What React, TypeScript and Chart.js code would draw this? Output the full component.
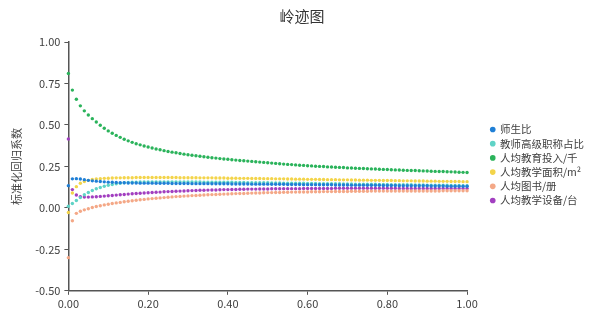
import React, { useEffect, useRef } from "react";
import { Chart, registerables } from "chart.js";

Chart.register(...registerables);

const LAMBDA = [
  0.0, 0.01, 0.02, 0.03, 0.04, 0.05, 0.06, 0.07, 0.08, 0.09,
  0.1, 0.11, 0.12, 0.13, 0.14, 0.15, 0.16, 0.17, 0.18, 0.19,
  0.2, 0.21, 0.22, 0.23, 0.24, 0.25, 0.26, 0.27, 0.28, 0.29,
  0.3, 0.31, 0.32, 0.33, 0.34, 0.35, 0.36, 0.37, 0.38, 0.39,
  0.4, 0.41, 0.42, 0.43, 0.44, 0.45, 0.46, 0.47, 0.48, 0.49,
  0.5, 0.51, 0.52, 0.53, 0.54, 0.55, 0.56, 0.57, 0.58, 0.59,
  0.6, 0.61, 0.62, 0.63, 0.64, 0.65, 0.66, 0.67, 0.68, 0.69,
  0.7, 0.71, 0.72, 0.73, 0.74, 0.75, 0.76, 0.77, 0.78, 0.79,
  0.8, 0.81, 0.82, 0.83, 0.84, 0.85, 0.86, 0.87, 0.88, 0.89,
  0.9, 0.91, 0.92, 0.93, 0.94, 0.95, 0.96, 0.97, 0.98, 0.99,
  1.0,
];

const SHISHENGBI = [
  0.134, 0.175, 0.176, 0.174, 0.170, 0.166, 0.163, 0.161, 0.159, 0.157,
  0.155, 0.154, 0.153, 0.152, 0.151, 0.150, 0.150, 0.150, 0.149, 0.149,
  0.149, 0.149, 0.148, 0.148, 0.148, 0.148, 0.147, 0.147, 0.147, 0.147,
  0.147, 0.146, 0.146, 0.146, 0.146, 0.146, 0.145, 0.145, 0.145, 0.145,
  0.145, 0.144, 0.144, 0.144, 0.144, 0.144, 0.143, 0.143, 0.143, 0.143,
  0.143, 0.142, 0.142, 0.142, 0.142, 0.141, 0.141, 0.141, 0.141, 0.140,
  0.140, 0.140, 0.140, 0.139, 0.139, 0.139, 0.139, 0.138, 0.138, 0.138,
  0.138, 0.137, 0.137, 0.137, 0.137, 0.136, 0.136, 0.136, 0.136, 0.135,
  0.135, 0.135, 0.135, 0.134, 0.134, 0.134, 0.134, 0.133, 0.133, 0.133,
  0.133, 0.132, 0.132, 0.132, 0.132, 0.131, 0.131, 0.131, 0.131, 0.130,
  0.130,
];

const GAOJI = [
  0.010, 0.026, 0.044, 0.062, 0.079, 0.093, 0.105, 0.115, 0.123, 0.130,
  0.136, 0.141, 0.145, 0.148, 0.151, 0.153, 0.154, 0.155, 0.156, 0.156,
  0.157, 0.157, 0.157, 0.157, 0.157, 0.157, 0.157, 0.157, 0.157, 0.156,
  0.156, 0.156, 0.156, 0.156, 0.155, 0.155, 0.155, 0.155, 0.154, 0.154,
  0.154, 0.154, 0.153, 0.153, 0.153, 0.152, 0.152, 0.152, 0.151, 0.151,
  0.151, 0.150, 0.150, 0.150, 0.149, 0.149, 0.149, 0.148, 0.148, 0.148,
  0.147, 0.147, 0.147, 0.146, 0.146, 0.146, 0.145, 0.145, 0.145, 0.144,
  0.144, 0.144, 0.143, 0.143, 0.143, 0.142, 0.142, 0.142, 0.141, 0.141,
  0.141, 0.140, 0.140, 0.140, 0.139, 0.139, 0.139, 0.138, 0.138, 0.138,
  0.137, 0.137, 0.137, 0.136, 0.136, 0.136, 0.135, 0.135, 0.135, 0.134,
  0.134,
];

const TOURU = [
  0.810, 0.710, 0.655, 0.615, 0.585, 0.560, 0.538, 0.518, 0.498, 0.480,
  0.464, 0.450, 0.437, 0.425, 0.414, 0.404, 0.395, 0.387, 0.380, 0.373,
  0.367, 0.361, 0.355, 0.350, 0.345, 0.340, 0.336, 0.332, 0.328, 0.324,
  0.320, 0.317, 0.314, 0.311, 0.308, 0.305, 0.302, 0.300, 0.297, 0.295,
  0.293, 0.290, 0.288, 0.286, 0.284, 0.282, 0.280, 0.278, 0.276, 0.274,
  0.272, 0.270, 0.268, 0.266, 0.264, 0.262, 0.261, 0.259, 0.257, 0.256,
  0.254, 0.253, 0.251, 0.250, 0.249, 0.247, 0.246, 0.245, 0.244, 0.243,
  0.241, 0.240, 0.239, 0.238, 0.237, 0.236, 0.235, 0.234, 0.233, 0.232,
  0.231, 0.230, 0.229, 0.228, 0.227, 0.226, 0.225, 0.225, 0.224, 0.223,
  0.222, 0.221, 0.220, 0.219, 0.219, 0.218, 0.217, 0.216, 0.215, 0.214,
  0.213,
];

const MIANJI = [
  -0.028, 0.090, 0.128, 0.148, 0.159, 0.166, 0.171, 0.174, 0.176, 0.178,
  0.179, 0.180, 0.181, 0.181, 0.182, 0.182, 0.182, 0.183, 0.183, 0.183,
  0.183, 0.183, 0.183, 0.183, 0.183, 0.183, 0.183, 0.183, 0.182, 0.182,
  0.182, 0.182, 0.182, 0.181, 0.181, 0.181, 0.181, 0.180, 0.180, 0.180,
  0.179, 0.179, 0.179, 0.178, 0.178, 0.178, 0.177, 0.177, 0.177, 0.176,
  0.176, 0.176, 0.175, 0.175, 0.175, 0.174, 0.174, 0.173, 0.173, 0.173,
  0.172, 0.172, 0.172, 0.171, 0.171, 0.170, 0.170, 0.170, 0.169, 0.169,
  0.169, 0.168, 0.168, 0.167, 0.167, 0.167, 0.166, 0.166, 0.166, 0.165,
  0.165, 0.165, 0.164, 0.164, 0.163, 0.163, 0.163, 0.162, 0.162, 0.162,
  0.161, 0.161, 0.161, 0.160, 0.160, 0.160, 0.159, 0.159, 0.159, 0.158,
  0.158,
];

const TUSHU = [
  -0.300, -0.078, -0.033, -0.020, -0.012, -0.005, 0.002, 0.008, 0.013, 0.018,
  0.022, 0.026, 0.030, 0.033, 0.037, 0.040, 0.043, 0.046, 0.049, 0.051,
  0.054, 0.056, 0.058, 0.060, 0.062, 0.064, 0.066, 0.068, 0.069, 0.071,
  0.072, 0.074, 0.075, 0.076, 0.078, 0.079, 0.080, 0.081, 0.082, 0.083,
  0.084, 0.085, 0.086, 0.087, 0.087, 0.088, 0.089, 0.090, 0.090, 0.091,
  0.092, 0.092, 0.093, 0.093, 0.094, 0.094, 0.095, 0.095, 0.096, 0.096,
  0.096, 0.097, 0.097, 0.097, 0.098, 0.098, 0.098, 0.099, 0.099, 0.099,
  0.099, 0.100, 0.100, 0.100, 0.100, 0.100, 0.101, 0.101, 0.101, 0.101,
  0.101, 0.101, 0.101, 0.102, 0.102, 0.102, 0.102, 0.102, 0.102, 0.102,
  0.102, 0.102, 0.102, 0.102, 0.103, 0.103, 0.103, 0.103, 0.103, 0.103,
  0.103,
];

const SHEBEI = [
  0.415, 0.110, 0.078, 0.068, 0.065, 0.065, 0.066, 0.067, 0.069, 0.071,
  0.073, 0.075, 0.077, 0.079, 0.081, 0.083, 0.085, 0.087, 0.088, 0.090,
  0.091, 0.093, 0.094, 0.095, 0.097, 0.098, 0.099, 0.100, 0.101, 0.102,
  0.103, 0.104, 0.105, 0.106, 0.106, 0.107, 0.108, 0.108, 0.109, 0.110,
  0.110, 0.111, 0.111, 0.112, 0.112, 0.113, 0.113, 0.113, 0.114, 0.114,
  0.114, 0.115, 0.115, 0.115, 0.116, 0.116, 0.116, 0.116, 0.116, 0.117,
  0.117, 0.117, 0.117, 0.117, 0.117, 0.117, 0.117, 0.118, 0.118, 0.118,
  0.118, 0.118, 0.118, 0.118, 0.118, 0.118, 0.118, 0.118, 0.118, 0.118,
  0.118, 0.118, 0.118, 0.117, 0.117, 0.117, 0.117, 0.117, 0.117, 0.117,
  0.117, 0.117, 0.117, 0.117, 0.117, 0.117, 0.117, 0.117, 0.117, 0.117,
  0.117,
];

const SERIES_NAMES = [
  "师生比",
  "教师高级职称占比",
  "人均教育投入/千",
  "人均教学面积/m²",
  "人均图书/册",
  "人均教学设备/台",
];
const SERIES_VALUES = [SHISHENGBI, GAOJI, TOURU, MIANJI, TUSHU, SHEBEI];
const SERIES_COLORS = ["#1f7fd6", "#5fd3c6", "#2bb35b", "#f3d44a", "#f4a887", "#a23fc0"];

const TITLE = "岭迹图";
const Y_TITLE = "标准化回归系数";

const FONT = "'Noto Sans CJK SC', 'Noto Sans', sans-serif";
const LEGEND_GAP = 20;
const LEGEND_DROP = 9;

const legendGapPlugin = {
  id: "legendGap",
  beforeUpdate(chart: any) {
    const lg = chart.legend;
    if (lg && !lg.__gapPatched) {
      const origFit = lg.fit.bind(lg);
      lg.fit = function () {
        origFit();
        this.width += LEGEND_GAP;
      };
      lg.__gapPatched = true;
    }
  },
  afterLayout(chart: any) {
    const lg = chart.legend;
    if (lg) {
      lg.left += LEGEND_GAP;
      lg.top += LEGEND_DROP;
      lg.bottom += LEGEND_DROP;
    }
  },
};

export default function App() {
  const ref = useRef<HTMLCanvasElement | null>(null);

  useEffect(() => {
    if (!ref.current) return;
    const datasets = SERIES_NAMES.map((name, i) => ({
      label: name,
      data: LAMBDA.map((x, j) => ({ x, y: SERIES_VALUES[i][j] })),
      backgroundColor: SERIES_COLORS[i],
      borderColor: SERIES_COLORS[i],
      borderWidth: 0,
      pointRadius: 1.7,
      pointStyle: "circle" as const,
      showLine: false,
      clip: false as any,
    }));
    const chart = new Chart(ref.current, {
      type: "scatter",
      data: { datasets },
      plugins: [legendGapPlugin],
      options: {
        responsive: false,
        animation: false,
        layout: { padding: { left: 10, right: 6, bottom: 2, top: 0 } },
        plugins: {
          title: {
            display: true,
            text: TITLE,
            color: "#333",
            font: { family: FONT, size: 15, weight: "normal" },
            padding: { top: 7, bottom: 17 },
          },
          legend: {
            position: "right",
            labels: {
              usePointStyle: true,
              pointStyle: "circle",
              boxWidth: 4,
              boxHeight: 4,
              padding: 3.7,
              color: "#404040",
              font: { family: FONT, size: 10.5 },
            },
          },
          tooltip: { enabled: false },
        },
        scales: {
          x: {
            type: "linear",
            min: 0,
            max: 1,
            border: { color: "#555", width: 1.5 },
            grid: { drawOnChartArea: false, drawTicks: true, tickLength: 4, color: "#555" },
            ticks: {
              stepSize: 0.2,
              color: "#404040",
              font: { family: FONT, size: 11 },
              padding: 2,
              callback: (v: any) => Number(v).toFixed(2),
            },
          },
          y: {
            type: "linear",
            min: -0.5,
            max: 1,
            border: { color: "#555", width: 1.5 },
            grid: { drawOnChartArea: false, drawTicks: true, tickLength: 4, color: "#555" },
            title: {
              display: true,
              text: Y_TITLE,
              color: "#404040",
              font: { family: FONT, size: 11 },
              padding: { top: 0, bottom: 8 },
            },
            ticks: {
              stepSize: 0.25,
              color: "#404040",
              font: { family: FONT, size: 11 },
              padding: 4,
              callback: (v: any) => Number(v).toFixed(2),
            },
          },
        },
      },
    });
    return () => chart.destroy();
  }, []);

  return (
    <div style={{ position: "fixed", left: 0, top: 0, width: 600, height: 314, background: "#fff" }}>
      <canvas ref={ref} width={600} height={314} style={{ width: 600, height: 314 }} />
    </div>
  );
}
